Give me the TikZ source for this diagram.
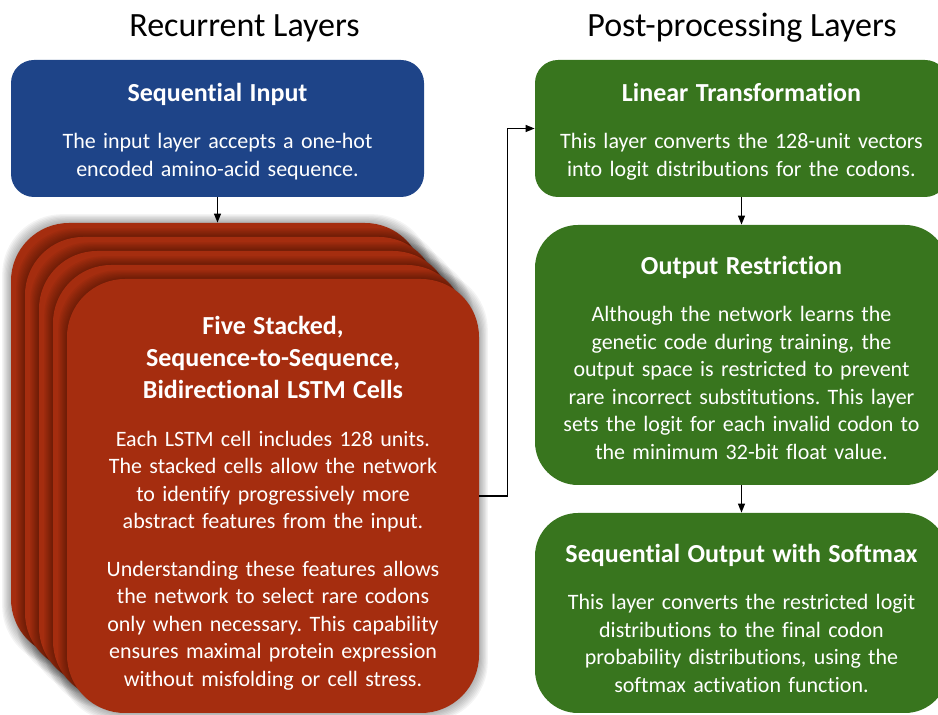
\documentclass[tikz,border=0pt]{standalone}
\usepackage{fontspec}
\setmainfont{Carlito}[RawFeature={-liga}]
\usetikzlibrary{arrows.meta}
\definecolor{inblue}{HTML}{1E4488}
\definecolor{postgreen}{HTML}{38751E}
\definecolor{lstmred}{HTML}{A52D0F}
\frenchspacing
\newcommand{\headfont}{\fontsize{13}{16}\selectfont\bfseries}
\newcommand{\bodyfont}{\fontsize{11}{13.75}\selectfont}
\tikzset{
  layer/.style={text=white, align=center, inner sep=0pt, font=\bodyfont, text width=206.5pt},
  inputbox/.style={layer, fill=inblue, rounded corners=11.5pt, minimum height=68.5pt},
  postbox/.style={layer, fill=postgreen},
  cellbox/.style={layer, fill=lstmred, rounded corners=29pt, text width=206pt, minimum height=217pt},
  flow/.style={-{Triangle[length=4.5pt,width=3.5pt]}, line width=0.6pt},
  grouptitle/.style={font=\fontsize{17}{20}\selectfont, anchor=base}
}
\begin{document}
\begin{tikzpicture}[x=0.5pt,y=-0.5pt]
\clip (0,0) rectangle (938,715);
\node[grouptitle] (rectitle) at (244.5,37) {Recurrent Layers};
\node[grouptitle] (posttitle) at (742,37) {Post-processing Layers};
\node[inputbox] (seqin) at (217.5,128.5) {{\headfont\rule{0pt}{12pt}Sequential Input\par}\vspace{10pt}
  The input layer accepts a one-hot\\ encoded amino-acid sequence.};
% stacked LSTM cells, back to front
\foreach \i in {4,3,2,1}{
  \foreach \k in {1,...,8}
    \fill[black,opacity=0.045,rounded corners=30pt] (67-14*\i-1.1*\k,279-14*\i-1.1*\k) rectangle (479-14*\i+1.1*\k,713-14*\i+1.1*\k);
  \node[cellbox] (cell\i) at (273-14*\i,496-14*\i) {};
}
\foreach \k in {1,...,8}
  \fill[black,opacity=0.045,rounded corners=30pt] (67-1.1*\k,279-1.1*\k) rectangle (479+1.1*\k,713+1.1*\k);
\node[cellbox] (cell0) at (273,496) {{\headfont\rule{0pt}{16.5pt}Five Stacked,\\ Sequence-to-Sequence,\\ Bidirectional LSTM Cells\par}\vspace{10pt}
  Each LSTM cell includes 128 units.\\ The stacked cells allow the network\\ to identify progressively more\\ abstract features from the input.\par\vspace{10pt}
  Understanding these features allows\\ the network to select rare codons\\ only when necessary. This capability\\ ensures maximal protein expression\\ without misfolding or cell stress.};
% post-processing
\node[postbox,rounded corners=11.5pt,minimum height=68.5pt] (lintr) at (741.5,128.5) {{\headfont\rule{0pt}{12pt}Linear Transformation\par}\vspace{10pt}
  This layer converts the 128-unit vectors\\ into logit distributions for the codons.};
\node[postbox,rounded corners=21.5pt,minimum height=130pt] (restr) at (741.5,355) {{\headfont\rule{0pt}{12pt}Output Restriction\par}\vspace{10pt}
  Although the network learns the\\ genetic code during training, the\\ output space is restricted to prevent\\ rare incorrect substitutions. This layer\\ sets the logit for each invalid codon to\\ the minimum 32-bit float value.};
\node[postbox,rounded corners=21.5pt,minimum height=100pt] (smax) at (741.5,613) {{\headfont\rule{0pt}{14.5pt}Sequential Output with Softmax\par}\vspace{10pt}
  This layer converts the restricted logit\\ distributions to the final codon\\ probability distributions, using the\\ softmax activation function.};
% arrows
\draw[flow] (seqin.south) -- (seqin.south |- cell4.north);
\draw[flow] (cell0.east) -- ++(28,0) |- (lintr.west);
\draw[flow] (lintr.south) -- (restr.north);
\draw[flow] (restr.south) -- (smax.north);
\end{tikzpicture}
\end{document}
